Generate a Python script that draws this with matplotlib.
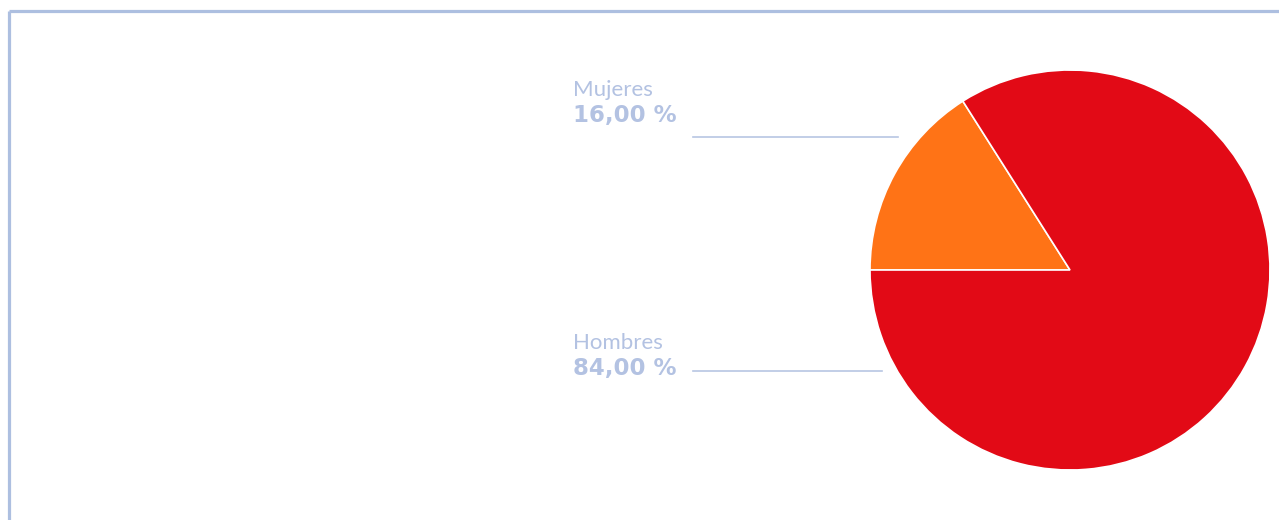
import matplotlib.pyplot as plt

# data
labels = ["Mujeres", "Hombres"]
values = [16.0, 84.0]
colors = ["#ff7316", "#e20a16"]

txt_color = "#b3c2e2"
line_color = "#b8c6e3"
W, H = 1279, 520

fig = plt.figure(figsize=(W / 100, H / 100), dpi=100)
ax = fig.add_axes([0, 0, 1, 1])

# pie, centre at (1070, 270) in picture pixels
cx, cy, r = 1070, H - 270, 200
ax.pie(values, colors=colors, startangle=180, counterclock=False,
       center=(cx, cy), radius=r,
       wedgeprops=dict(edgecolor="white", linewidth=1.2))

# frame (top and left only visible)
ax.plot([9, W], [H - 11, H - 11], color="#adbfe0", lw=2.3, solid_capstyle="butt")
ax.plot([9, 9], [H - 11, 0], color="#adbfe0", lw=2.3, solid_capstyle="butt")

# labels: (name baseline, value baseline, leader y, leader end x)
label_pos = [(96, 122, 137, 898), (349, 375, 371, 882)]
for lab, val, (yb1, yb2, yl, xe) in zip(labels, values, label_pos):
    ax.text(573, H - yb1, lab, fontsize=16, family="Lato", color=txt_color,
            va="baseline", ha="left")
    ax.text(573, H - yb2, f"{val:.2f}".replace(".", ",") + " %", fontsize=16.5,
            family="DejaVu Sans", weight="bold", color=txt_color,
            va="baseline", ha="left")
    ax.plot([693, xe], [H - yl, H - yl], color=line_color, lw=1.2)

ax.set_xlim(0, W)
ax.set_ylim(0, H)
ax.set_aspect("auto")
ax.axis("off")

fig.savefig("out.png", dpi=100)
